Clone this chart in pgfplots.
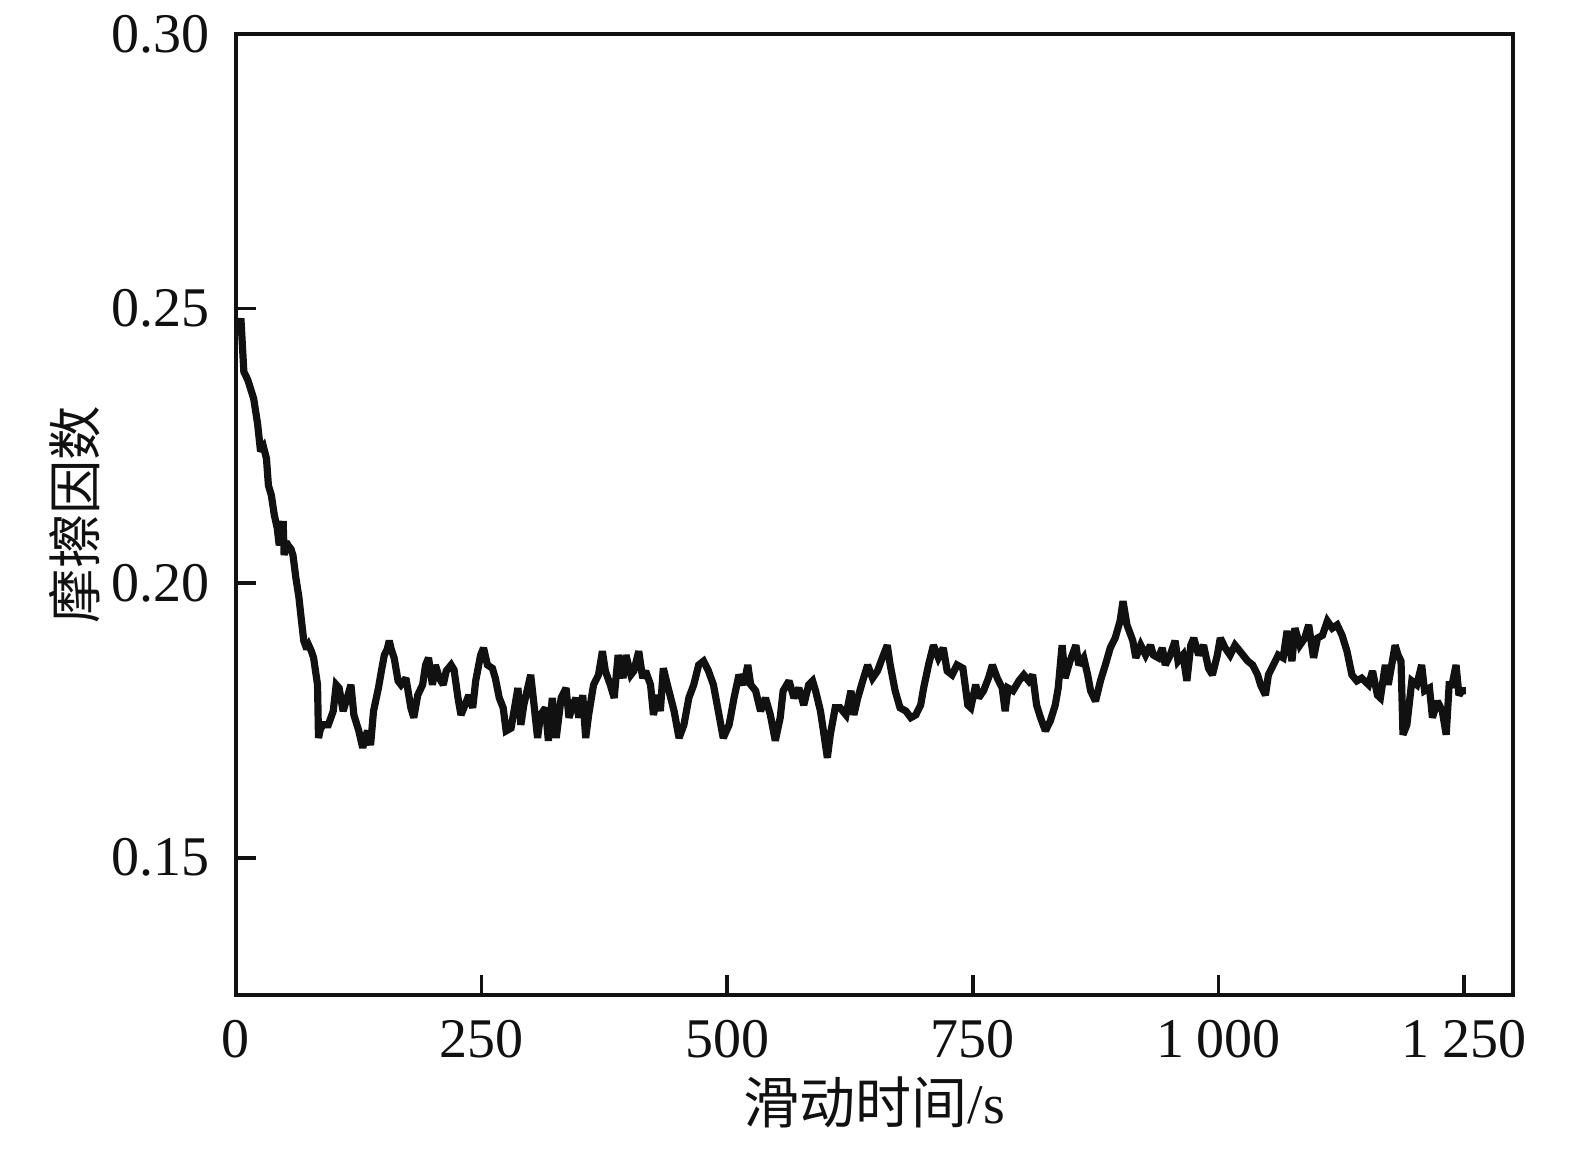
\documentclass[border=0pt]{standalone}
\usepackage{fontspec}
\setmainfont{Liberation Serif}
\newfontfamily\cjk{Noto Sans CJK SC}
\usepackage{pgfplots}
\pgfplotsset{compat=1.18}
\definecolor{ink}{HTML}{111111}
\begin{document}
\begin{tikzpicture}
\path (-59pt,-38.25pt) rectangle (334.75pt,248.75pt);
\begin{axis}[
  at={(0,0)}, anchor=south west,
  scale only axis,
  width=319.25pt, height=240.25pt,
  xmin=0, xmax=1300, ymin=0.125, ymax=0.30,
  axis line style={ink, line width=1pt},
  tick style={ink, line width=0.9pt},
  tick align=inside, major tick length=5pt,
  xtick pos=bottom, ytick pos=left,
  xtick={0,250,500,750,1000,1250},
  xticklabels={0,250,500,750,1\hspace{0.22em}000,1\hspace{0.22em}250},
  ytick={0.15,0.20,0.25,0.30},
  yticklabels={0.15,0.20,0.25,0.30},
  minor tick num=0,
  tick label style={font=\fontsize{14}{16}\selectfont, text=ink, inner sep=0pt},
  xticklabel style={anchor=base, yshift=-15.5pt},
  yticklabel style={anchor=east, xshift=-6.5pt},
  every axis x label/.style={at={(axis description cs:0.5,0)}, anchor=base, yshift=-32pt, font=\fontsize{14}{16}\selectfont, text=ink, inner sep=0pt},
  every axis y label/.style={at={(axis description cs:0,0.5)}, anchor=center, xshift=-40.25pt, rotate=90, font=\fontsize{13.6}{16}\selectfont, text=ink, inner sep=0pt},
  xlabel={{\cjk 滑动时间}/s},
  ylabel={\cjk 摩擦因数},
]
\addplot[ink, line width=1.8pt, line join=miter, miter limit=2.5] table[row sep=\\] {
x y\\
0 0.2476\\ 3 0.2465\\ 5 0.2482\\ 8 0.2385\\ 12 0.2370\\ 18 0.2336\\ 22 0.2290\\ 25 0.2240\\ 28 0.2248\\ 31 0.2227\\ 33 0.2178\\ 36 0.2160\\ 39 0.2124\\ 42 0.2100\\ 44 0.2069\\ 46 0.2085\\ 48 0.2113\\ 49 0.2051\\ 51 0.2075\\ 53 0.2069\\ 56 0.2062\\ 58 0.2051\\ 61 0.2009\\ 64 0.1975\\ 66 0.1942\\ 69 0.1895\\ 72 0.1880\\ 74 0.1887\\ 77 0.1875\\ 79 0.1864\\ 83 0.1815\\ 84 0.1718\\ 86 0.1735\\ 89 0.1742\\ 94 0.1742\\ 99 0.1767\\ 102 0.1815\\ 105 0.1809\\ 109 0.1767\\ 114 0.1796\\ 117 0.1815\\ 120 0.1760\\ 125 0.1731\\ 129 0.1700\\ 132 0.1722\\ 134 0.1731\\ 137 0.1705\\ 140 0.1767\\ 145 0.1809\\ 148 0.1840\\ 151 0.1869\\ 154 0.1880\\ 156 0.1895\\ 158 0.1880\\ 161 0.1864\\ 165 0.1822\\ 168 0.1815\\ 173 0.1827\\ 178 0.1773\\ 181 0.1755\\ 185 0.1796\\ 190 0.1815\\ 193 0.1851\\ 196 0.1864\\ 200 0.1815\\ 203 0.1851\\ 207 0.1827\\ 211 0.1815\\ 214 0.1840\\ 219 0.1851\\ 222 0.1842\\ 226 0.1791\\ 229 0.1760\\ 232 0.1773\\ 237 0.1796\\ 241 0.1773\\ 244 0.1822\\ 249 0.1869\\ 252 0.1882\\ 256 0.1851\\ 261 0.1845\\ 264 0.1827\\ 268 0.1791\\ 272 0.1773\\ 275 0.1731\\ 280 0.1736\\ 283 0.1767\\ 287 0.1809\\ 290 0.1742\\ 293 0.1778\\ 300 0.1833\\ 303 0.1785\\ 307 0.1718\\ 310 0.1760\\ 315 0.1773\\ 318 0.1713\\ 322 0.1791\\ 326 0.1718\\ 331 0.1791\\ 336 0.1809\\ 339 0.1755\\ 343 0.1778\\ 346 0.1791\\ 349 0.1755\\ 353 0.1796\\ 356 0.1718\\ 359 0.1760\\ 364 0.1815\\ 369 0.1833\\ 373 0.1876\\ 376 0.1840\\ 381 0.1815\\ 385 0.1791\\ 389 0.1869\\ 394 0.1827\\ 397 0.1869\\ 402 0.1833\\ 405 0.1840\\ 410 0.1876\\ 414 0.1827\\ 417 0.1840\\ 422 0.1815\\ 425 0.1760\\ 429 0.1796\\ 432 0.1767\\ 435 0.1845\\ 440 0.1809\\ 446 0.1767\\ 451 0.1718\\ 456 0.1742\\ 461 0.1791\\ 466 0.1815\\ 471 0.1851\\ 476 0.1858\\ 481 0.1840\\ 486 0.1815\\ 491 0.1767\\ 496 0.1718\\ 502 0.1742\\ 507 0.1791\\ 512 0.1833\\ 517 0.1815\\ 521 0.1851\\ 524 0.1815\\ 529 0.1804\\ 534 0.1767\\ 539 0.1791\\ 544 0.1760\\ 549 0.1713\\ 554 0.1755\\ 557 0.1804\\ 563 0.1822\\ 568 0.1791\\ 573 0.1809\\ 578 0.1778\\ 583 0.1815\\ 587 0.1822\\ 590 0.1804\\ 595 0.1767\\ 598 0.1731\\ 602 0.1682\\ 605 0.1724\\ 610 0.1773\\ 615 0.1773\\ 621 0.1760\\ 626 0.1804\\ 629 0.1760\\ 633 0.1791\\ 638 0.1822\\ 643 0.1851\\ 648 0.1827\\ 653 0.1840\\ 658 0.1864\\ 663 0.1887\\ 666 0.1851\\ 671 0.1804\\ 676 0.1773\\ 682 0.1767\\ 687 0.1755\\ 692 0.1760\\ 697 0.1778\\ 700 0.1809\\ 705 0.1851\\ 710 0.1887\\ 715 0.1864\\ 720 0.1882\\ 724 0.1840\\ 729 0.1833\\ 734 0.1851\\ 740 0.1845\\ 745 0.1778\\ 748 0.1773\\ 753 0.1815\\ 756 0.1791\\ 761 0.1804\\ 766 0.1827\\ 770 0.1851\\ 775 0.1827\\ 780 0.1809\\ 783 0.1767\\ 786 0.1809\\ 791 0.1804\\ 797 0.1822\\ 802 0.1833\\ 807 0.1822\\ 811 0.1833\\ 815 0.1778\\ 819 0.1755\\ 824 0.1731\\ 829 0.1749\\ 834 0.1778\\ 837 0.1809\\ 841 0.1887\\ 844 0.1827\\ 849 0.1858\\ 855 0.1887\\ 858 0.1851\\ 863 0.1864\\ 867 0.1833\\ 870 0.1804\\ 875 0.1785\\ 880 0.1822\\ 885 0.1851\\ 890 0.1882\\ 895 0.1900\\ 900 0.1931\\ 903 0.1967\\ 907 0.1924\\ 913 0.1895\\ 916 0.1864\\ 921 0.1887\\ 926 0.1869\\ 931 0.1887\\ 934 0.1869\\ 939 0.1864\\ 943 0.1882\\ 946 0.1851\\ 951 0.1869\\ 956 0.1895\\ 959 0.1858\\ 964 0.1869\\ 968 0.1822\\ 972 0.1887\\ 975 0.1900\\ 980 0.1869\\ 985 0.1887\\ 990 0.1845\\ 994 0.1833\\ 999 0.1869\\ 1002 0.1900\\ 1007 0.1882\\ 1012 0.1869\\ 1017 0.1887\\ 1022 0.1876\\ 1030 0.1858\\ 1035 0.1851\\ 1040 0.1833\\ 1043 0.1815\\ 1048 0.1796\\ 1051 0.1833\\ 1056 0.1851\\ 1061 0.1869\\ 1066 0.1864\\ 1070 0.1913\\ 1075 0.1858\\ 1078 0.1918\\ 1083 0.1887\\ 1088 0.1900\\ 1092 0.1924\\ 1097 0.1864\\ 1101 0.1900\\ 1106 0.1905\\ 1111 0.1931\\ 1116 0.1918\\ 1121 0.1924\\ 1126 0.1905\\ 1131 0.1876\\ 1136 0.1833\\ 1141 0.1822\\ 1146 0.1827\\ 1153 0.1815\\ 1157 0.1840\\ 1162 0.1796\\ 1165 0.1791\\ 1170 0.1851\\ 1173 0.1815\\ 1180 0.1887\\ 1183 0.1869\\ 1186 0.1858\\ 1188 0.1724\\ 1192 0.1742\\ 1197 0.1822\\ 1202 0.1815\\ 1207 0.1851\\ 1210 0.1804\\ 1215 0.1809\\ 1218 0.1755\\ 1223 0.1785\\ 1228 0.1767\\ 1232 0.1724\\ 1235 0.1815\\ 1238 0.1815\\ 1242 0.1851\\ 1245 0.1796\\ 1248 0.1804\\ 1252 0.1804\\
};
\end{axis}
\end{tikzpicture}
\end{document}
